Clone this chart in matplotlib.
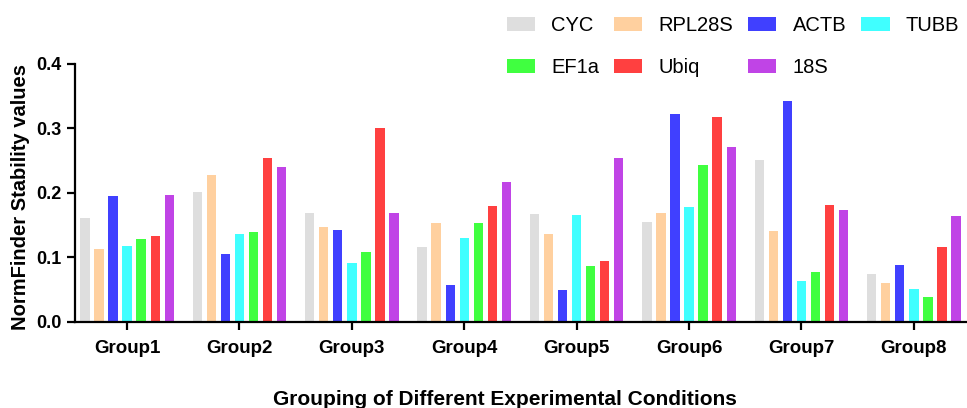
import numpy as np
import matplotlib.pyplot as plt

plt.rcParams['font.family'] = ['Liberation Sans', 'DejaVu Sans']

groups = ['Group1', 'Group2', 'Group3', 'Group4', 'Group5', 'Group6', 'Group7', 'Group8']
genes = ['CYC', 'RPL28S', 'ACTB', 'TUBB', 'EF1a', 'Ubiq', '18S']
colors = ['#dedede', '#ffd09f', '#4040ff', '#40ffff', '#40ff40', '#ff4040', '#c044e6']

# NormFinder stability value per gene, one entry per group
cyc = [0.161, 0.201, 0.169, 0.116, 0.167, 0.155, 0.251, 0.075]
rpl28s = [0.113, 0.228, 0.147, 0.153, 0.137, 0.169, 0.141, 0.060]
actb = [0.196, 0.105, 0.142, 0.058, 0.050, 0.322, 0.343, 0.088]
tubb = [0.118, 0.136, 0.091, 0.130, 0.166, 0.178, 0.063, 0.051]
ef1a = [0.129, 0.139, 0.108, 0.153, 0.087, 0.244, 0.077, 0.039]
ubiq = [0.134, 0.254, 0.300, 0.180, 0.095, 0.318, 0.181, 0.116]
s18 = [0.197, 0.240, 0.169, 0.217, 0.254, 0.271, 0.173, 0.164]

series = [cyc, rpl28s, actb, tubb, ef1a, ubiq, s18]

fig = plt.figure(figsize=(9.67, 4.08), dpi=100)
ax = fig.add_axes([0.0776, 0.2108, 0.9224, 0.6324])

x = np.arange(1, len(groups) + 1)
step = 0.125
bars = []
for i, vals in enumerate(series):
    b = ax.bar(x + (i - 3) * step, vals, width=0.083, color=colors[i], label=genes[i])
    bars.append(b)

ax.set_xlim(0.537, 8.473)
ax.set_ylim(0, 0.4)
ax.set_yticks([0.0, 0.1, 0.2, 0.3, 0.4])
ax.set_yticklabels(['0.0', '0.1', '0.2', '0.3', '0.4'], fontweight='bold', fontsize=13)
ax.set_xticks(x)
ax.set_xticklabels(groups, fontweight='bold', fontsize=13.5)

for side in ['top', 'right']:
    ax.spines[side].set_visible(False)
for side in ['left', 'bottom']:
    ax.spines[side].set_linewidth(1.6)
ax.tick_params(axis='both', width=1.6, length=6, direction='out')
ax.tick_params(axis='x', pad=7)

fig.text(0.021, 0.518, 'NormFinder Stability values', rotation=90, fontweight='bold',
         fontsize=14.5, ha='center', va='center')
fig.text(0.522, 0.022, 'Grouping of Different Experimental Conditions', fontweight='bold',
         fontsize=15, ha='center', va='center')

# legend fills column-wise, so interleave to get the two rows right
order = [0, 4, 1, 5, 2, 6, 3]
fig.legend([bars[k] for k in order], [genes[k] for k in order], ncol=4,
           loc='upper left', bbox_to_anchor=(0.524, 0.96), frameon=False,
           fontsize=14.5, handlelength=1.4, handleheight=0.7, handletextpad=0.8,
           columnspacing=0.75, labelspacing=1.12, borderpad=0, borderaxespad=0)

fig.savefig('out.png', dpi=100)
